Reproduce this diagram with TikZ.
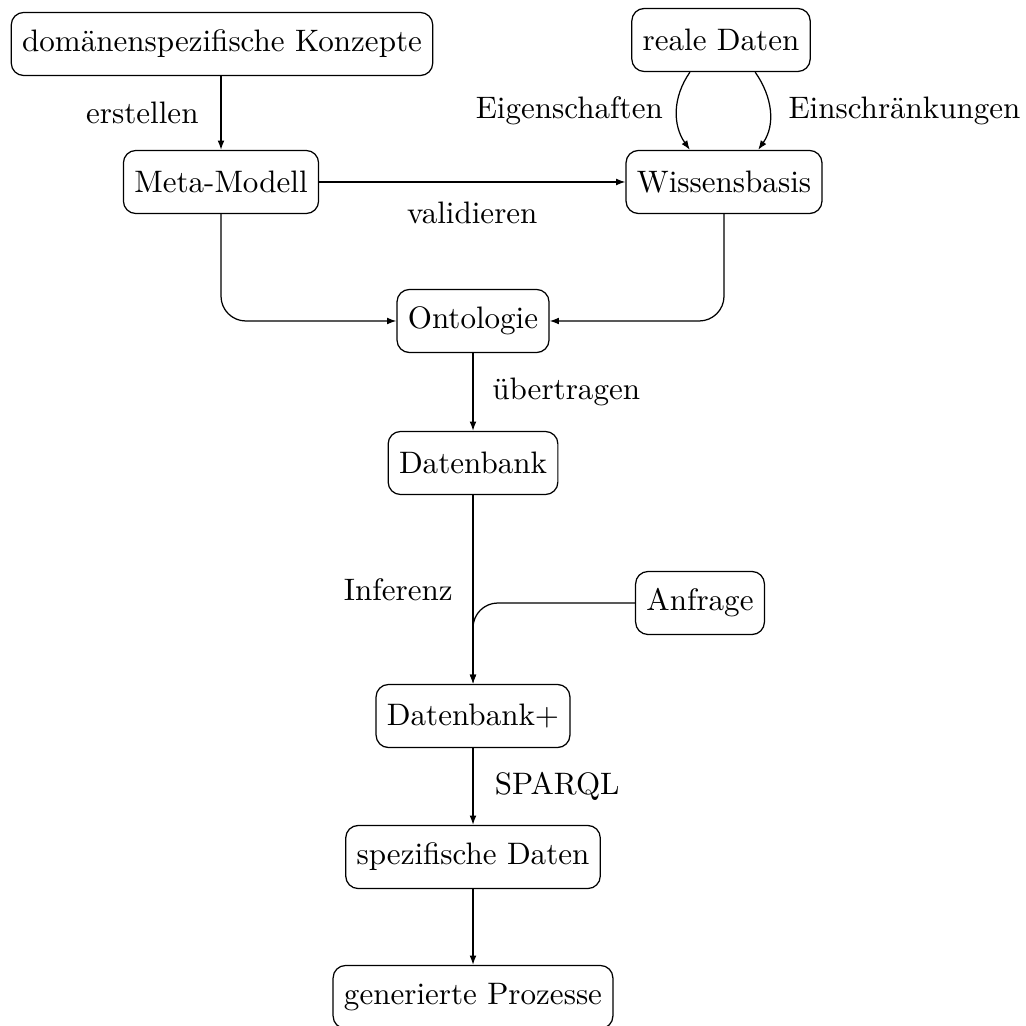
\documentclass[tikz,border=0pt]{standalone}
\usetikzlibrary{arrows.meta}
\begin{document}
\begin{tikzpicture}[x=0.322pt,y=0.322pt,
  box/.style={draw, rounded corners=4pt, inner xsep=3.5pt, minimum height=20.3pt},
  arr/.style={-{Latex[length=3pt,width=2.2pt]}},
  conn/.style={arr, rounded corners=8pt}]
\useasboundingbox (0,0) rectangle (1025,-1026);
\node[box] (dk) at (222,-44) {domänenspezifische Konzepte};
\node[box] (rd) at (721,-40) {reale Daten};
\node[box] (mm) at (221,-182) {Meta-Modell};
\node[box] (wb) at (724,-182) {Wissensbasis};
\node[box] (on) at (473,-321) {Ontologie};
\node[box] (db) at (473,-463) {Datenbank};
\node[box] (an) at (700,-603) {Anfrage};
\node[box] (dp) at (473,-716) {Datenbank+};
\node[box] (sd) at (473,-857) {spezifische Daten};
\node[box] (gp) at (473,-997) {generierte Prozesse};

\draw[arr] (dk.south -| mm) -- node[midway, left=3.7pt] (l1) {erstellen} (mm.north);
\draw[arr] ([xshift=-10pt]rd.south) to[out=-125,in=125] node[midway, left=1pt] (l2) {Eigenschaften} ([xshift=-11pt]wb.north);
\draw[arr] ([xshift=11pt]rd.south) to[out=-55,in=55] node[midway, right=2.5pt] (l3) {Einschränkungen} ([xshift=11pt]wb.north);
\draw[arr] (mm.east) -- node[midway, below=3pt] (l4) {validieren} (wb.west);
\draw[conn] (mm.south) |- (on.west);
\draw[conn] (wb.south) |- (on.east);
\draw[arr] (on.south) -- node[midway, right=2.7pt] (l5) {übertragen} (db.north);
\draw[arr] (db.south) -- node[midway, left=3pt] (l6) {Inferenz} (dp.north);
\draw[conn] (an.west) -| (dp.north);
\draw[arr] (dp.south) -- node[midway, right=3.5pt] (l7) {SPARQL} (sd.north);
\draw[arr] (sd.south) -- (gp.north);
\end{tikzpicture}
\end{document}
